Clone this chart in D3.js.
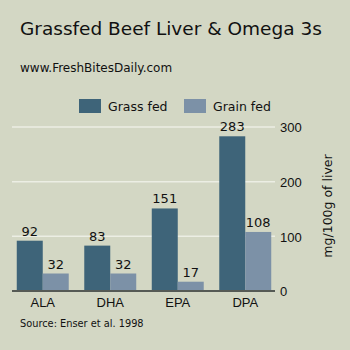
<!DOCTYPE html>
<html><head><meta charset="utf-8">
<script src="https://cdn.jsdelivr.net/npm/d3@7"></script>
<style>
html,body{margin:0;padding:0;background:#d3d7c4;}
svg{display:block;font-family:"DejaVu Sans",Verdana,sans-serif;}
</style></head>
<body>
<svg id="c" width="350" height="350"></svg>
<script>
const categories = ["ALA", "DHA", "EPA", "DPA"];
const seriesNames = ["Grass fed", "Grain fed"];
const grassFed = [92, 83, 151, 283];
const grainFed = [32, 32, 17, 108];
const yTicks = [0, 100, 200, 300];

const colors = ["#3e6479", "#7c91a7"];
const svg = d3.select("#c");
svg.append("rect").attr("width",350).attr("height",350).attr("fill","#d3d7c4");

const x = d3.scaleBand().domain(categories).range([9, 279]).paddingInner(0.23).paddingOuter(0.115);
const xs = d3.scaleBand().domain(seriesNames).range([0, x.bandwidth()]);
const y = d3.scaleLinear().domain([0, 300]).range([291, 127]);

// gridlines
svg.append("g").selectAll("line").data(yTicks.filter(d=>d>0)).join("line")
  .attr("x1", 12).attr("x2", 275).attr("y1", d=>y(d)).attr("y2", d=>y(d))
  .attr("stroke", "#eceee4").attr("stroke-width", 1.5);

// right axis
const yAxis = d3.axisRight(y).tickValues(yTicks).tickSize(0).tickPadding(0);
const ga = svg.append("g").attr("transform", "translate(280,0)").call(yAxis);
ga.select(".domain").remove();
ga.selectAll("text").attr("font-size", 13).attr("fill", "#111").attr("x", 0).attr("dy","0.36em");

const data = categories.map((c,i)=>({cat:c, vals:[grassFed[i], grainFed[i]]}));
const groups = svg.append("g").selectAll("g").data(data).join("g")
  .attr("transform", d=>`translate(${x(d.cat)},0)`);
groups.selectAll("rect").data(d=>d.vals.map((v,j)=>({v, s:seriesNames[j], j}))).join("rect")
  .attr("x", d=>xs(d.s)).attr("width", xs.bandwidth())
  .attr("y", d=>y(d.v)).attr("height", d=>y(0)-y(d.v))
  .attr("fill", d=>colors[d.j]);
groups.selectAll("text").data(d=>d.vals.map((v,j)=>({v, s:seriesNames[j], j}))).join("text")
  .attr("x", d=>xs(d.s)+xs.bandwidth()/2).attr("y", d=>y(d.v)-5)
  .attr("text-anchor","middle").attr("font-size",13).attr("fill","#111").text(d=>d.v);

// baseline
svg.append("line").attr("x1", 12).attr("x2", 275).attr("y1", y(0)).attr("y2", y(0))
  .attr("stroke", "#555a55").attr("stroke-width", 2);

// x axis labels
const xAxis = d3.axisBottom(x).tickSize(0).tickPadding(0);
const gx = svg.append("g").attr("transform", `translate(0,${y(0)})`).call(xAxis);
gx.select(".domain").remove();
gx.selectAll("text").attr("font-size",13).attr("fill","#111").attr("y", 16).attr("dy", 0);

// titles
svg.append("text").attr("x",20).attr("y",35).attr("font-size",18.5).attr("fill","#111").text("Grassfed Beef Liver & Omega 3s");
svg.append("text").attr("x",20).attr("y",72).attr("font-size",12).attr("fill","#111").text("www.FreshBitesDaily.com");
svg.append("text").attr("x",20).attr("y",327).attr("font-size",9.8).attr("fill","#111").text("Source: Enser et al. 1998");

// y label
svg.append("text").attr("transform","translate(332,206) rotate(-90)").attr("text-anchor","middle")
  .attr("font-size",12.5).attr("fill","#111").text("mg/100g of liver");

// legend
const legX = [79, 184];
const lg = svg.append("g").selectAll("g").data(seriesNames).join("g")
  .attr("transform",(d,i)=>`translate(${legX[i]},99)`);
lg.append("rect").attr("width",22).attr("height",14).attr("fill",(d,i)=>colors[i]);
lg.append("text").attr("x",29).attr("y",12).attr("font-size",12.5).attr("fill","#111").text(d=>d);
</script>
</body></html>
